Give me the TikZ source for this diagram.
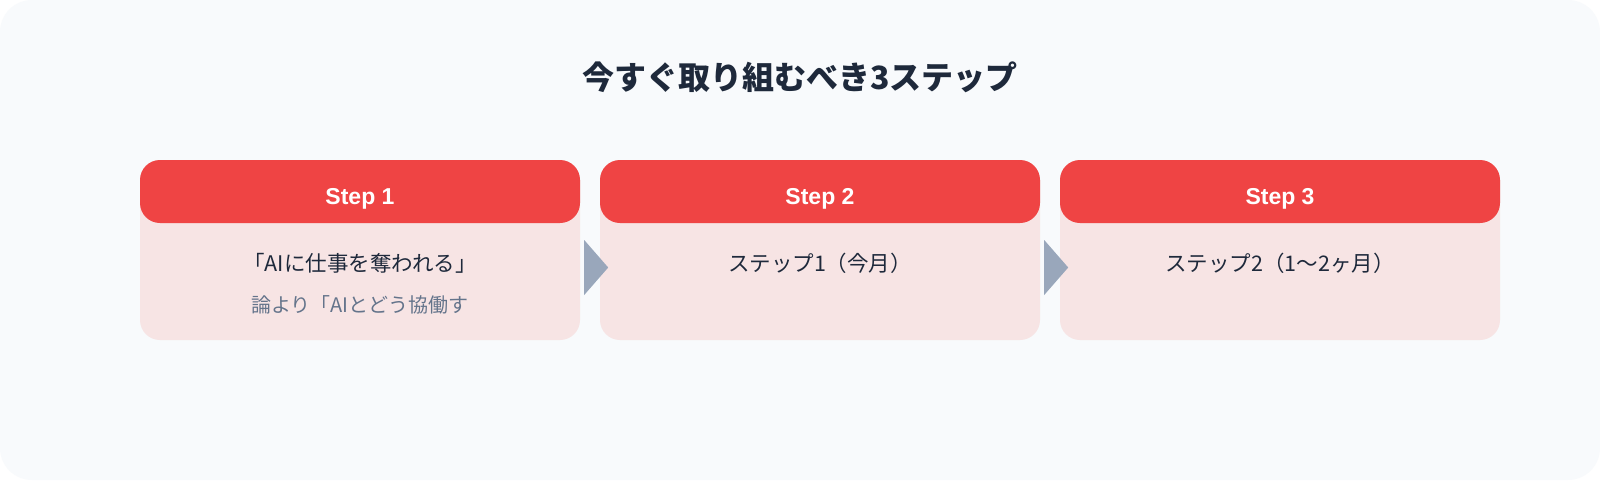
\documentclass[tikz,border=0pt]{standalone}
\usepackage{fontspec}
\setmainfont{Noto Sans CJK JP}
\newfontfamily\headfont{Liberation Sans}
\definecolor{bgcol}{HTML}{F8FAFC}
\definecolor{cardpink}{HTML}{F7E4E4}
\definecolor{headred}{HTML}{EF4444}
\definecolor{inkdark}{HTML}{1E293B}
\definecolor{inkgray}{HTML}{64748B}
\definecolor{arrowgray}{HTML}{94A3B8}

\begin{document}
\begin{tikzpicture}[x=1pt,y=-1pt,
  card/.style={shape=rectangle, minimum width=440pt, minimum height=180pt, inner sep=0pt, rounded corners=20pt, fill=cardpink},
  head/.style={shape=rectangle, minimum width=440pt, minimum height=63pt, inner sep=0pt, rounded corners=20pt, fill=headred},
  steplabel/.style={anchor=base, inner sep=0pt, text=white, font=\headfont\bfseries\fontsize{23}{28}\selectfont},
  maintext/.style={anchor=base, inner sep=0pt, text=inkdark, font=\fontsize{21.5}{26}\selectfont},
  subtext/.style={anchor=base, inner sep=0pt, text=inkgray, font=\fontsize{20}{24}\selectfont},
  arrowfill/.style={fill=arrowgray, fill opacity=0.95}]

\useasboundingbox (0,0) rectangle (1600,480);
\fill [white] (0,0) rectangle (1600,480);
\fill [bgcol, rounded corners=32pt] (0,0) rectangle (1600,480);

\path (800,89) node (T) [anchor=base, inner sep=0pt, text=inkdark, font=\bfseries\fontsize{32}{38}\selectfont] {今すぐ取り組むべき3ステップ};

% cards
\path (360,250) node (S1) [card] {};
\path (820,250) node (S2) [card] {};
\path (1280,250) node (S3) [card] {};

\path (360,191.5) node (H1) [head] {};
\path (820,191.5) node (H2) [head] {};
\path (1280,191.5) node (H3) [head] {};

\path (360,204) node (L1) [steplabel] {Step 1};
\path (820,204) node (L2) [steplabel] {Step 2};
\path (1280,204) node (L3) [steplabel] {Step 3};

\path (360,271.5) node (M1) [maintext] {「AIに仕事を奪われる」};
\path (360,312) node (N1) [subtext] {論より「AIとどう協働す};
\path (820,271.5) node (M2) [maintext] {ステップ1（今月）};
\path (1280,271.5) node (M3) [maintext] {ステップ2（1〜2ヶ月）};

% arrows
\path ([xshift=16pt,yshift=-17.5pt]S1.east) coordinate (A1);
\path ([xshift=16pt,yshift=-17.5pt]S2.east) coordinate (A2);

\fill [arrowfill] ([shift={(-12,-27.5)}]A1) -- ([shift={(12,0)}]A1) -- ([shift={(-12,27.5)}]A1) -- cycle;
\fill [arrowfill] ([shift={(-12,-27.5)}]A2) -- ([shift={(12,0)}]A2) -- ([shift={(-12,27.5)}]A2) -- cycle;

\end{tikzpicture}
\end{document}
